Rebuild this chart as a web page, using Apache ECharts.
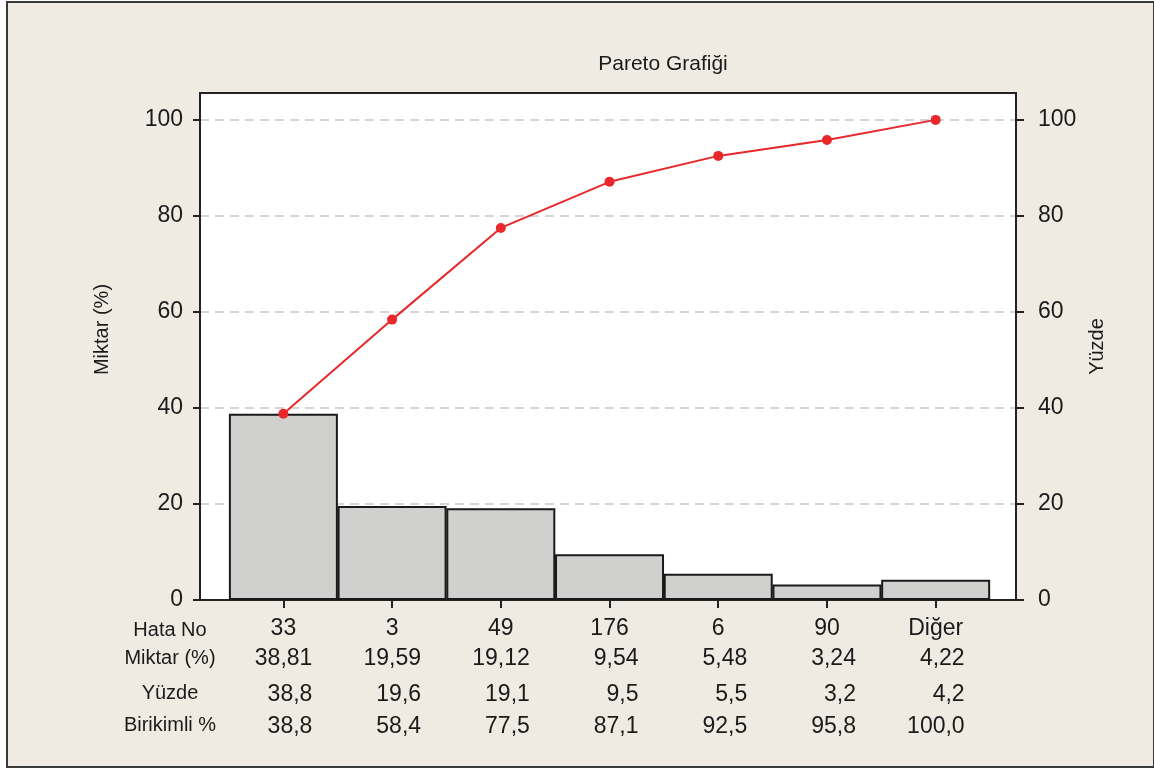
<!DOCTYPE html>
<html lang="tr">
<head>
<meta charset="UTF-8">
<title>Pareto Grafiği</title>
<script src="https://cdn.jsdelivr.net/npm/echarts@6/dist/echarts.min.js"></script>
<style>
  body { margin: 0; background: #fff; }
  #frame { position: absolute; left: 6px; top: 1px; width: 1145px; height: 763px;
           border: 2px solid #3a3a3a; background: #f0ebe2; }
  #chart { position: absolute; left: 0; top: 0; width: 1154px; height: 770px; }
</style>
</head>
<body>
<div id="frame"></div>
<div id="chart"></div>
<script>
  // veriler
  const hataNo = ['33', '3', '49', '176', '6', '90', 'Diğer'];
  const miktar = [38.81, 19.59, 19.12, 9.54, 5.48, 3.24, 4.22];
  const yuzde = [38.8, 19.6, 19.1, 9.5, 5.5, 3.2, 4.2];
  const birikimli = [38.8, 58.4, 77.5, 87.1, 92.5, 95.8, 100.0];
  const yTicks = [0, 20, 40, 60, 80, 100];
  const rowNames = ['Hata No', 'Miktar (%)', 'Yüzde', 'Birikimli %'];

  const FONT = '"Liberation Sans", Arial, Helvetica, sans-serif';
  const TXT = '#1a1a1a';
  const idx = hataNo.map((_, i) => i);
  const fmt = (v, d) => v.toFixed(d).replace('.', ',');

  const chart = echarts.init(document.getElementById('chart'));

  // tablo satırları ayrı x eksenleri olarak
  function rowAxis(offset, values, digits) {
    return {
      type: 'value', min: -0.767, max: 6.739, position: 'bottom', offset: offset,
      axisLine: { show: false, onZero: false }, axisTick: { show: false }, splitLine: { show: false },
      axisLabel: {
        customValues: idx, margin: 17,
        formatter: v => '{v|' + fmt(values[Math.round(v)], digits) + '}',
        rich: { v: { width: 58, align: 'right', fontSize: 23, color: TXT, fontFamily: FONT } }
      }
    };
  }

  const option = {
    textStyle: { fontFamily: FONT },
    title: {
      text: 'Pareto Grafiği', left: 658, top: 49, textAlign: 'center',
      textStyle: { fontSize: 21, fontWeight: 'normal', color: TXT, fontFamily: FONT }
    },
    grid: {
      left: 200, right: 138, top: 93, bottom: 170,
      show: true, backgroundColor: '#fff', borderColor: '#222', borderWidth: 2
    },
    xAxis: [
      {
        type: 'value', min: -0.767, max: 6.739, position: 'bottom',
        axisLine: { show: true, onZero: false, lineStyle: { color: '#222', width: 2 } },
        axisTick: { show: true, customValues: idx, length: 8, lineStyle: { color: '#222', width: 2 } },
        splitLine: { show: false },
        axisLabel: {
          customValues: idx, margin: 17, fontSize: 23, color: TXT,
          formatter: v => hataNo[Math.round(v)]
        }
      },
      rowAxis(30, miktar, 2),
      rowAxis(66, yuzde, 1),
      rowAxis(98, birikimli, 1)
    ],
    yAxis: [
      {
        type: 'value', min: 0, max: 105.6, position: 'left',
        name: 'Miktar (%)', nameLocation: 'middle', nameGap: 88,
        nameTextStyle: { fontSize: 20, color: TXT, padding: [0, 0, 0, 34] },
        axisLine: { show: true, onZero: false, lineStyle: { color: '#222', width: 2 } },
        axisTick: { show: true, customValues: yTicks, length: 7, lineStyle: { color: '#222', width: 2 } },
        axisLabel: { customValues: yTicks, margin: 17, fontSize: 23, color: TXT },
        splitLine: { show: true, lineStyle: { color: '#c8c8c8', width: 1.5, type: [9, 6] } }
      },
      {
        type: 'value', min: 0, max: 105.6, position: 'right',
        name: 'Yüzde', nameLocation: 'middle', nameGap: 70,
        nameTextStyle: { fontSize: 20, color: TXT },
        axisLine: { show: true, onZero: false, lineStyle: { color: '#222', width: 2 } },
        axisTick: { show: true, customValues: yTicks, length: 8, lineStyle: { color: '#222', width: 2 } },
        axisLabel: { customValues: yTicks, margin: 22, fontSize: 23, color: TXT },
        splitLine: { show: false }
      }
    ],
    graphic: rowNames.map((t, i) => ({
      type: 'text', x: 170, y: [630, 658, 693, 725][i],
      style: {
        text: t, fontSize: 20, fill: TXT, fontFamily: FONT,
        align: 'center', verticalAlign: 'middle'
      }
    })),
    series: [
      {
        name: 'Miktar (%)', type: 'bar', xAxisIndex: 0, yAxisIndex: 0,
        barWidth: 109,
        itemStyle: { color: '#d0d0ce', borderColor: '#1a1a1a', borderWidth: 2 },
        data: miktar.map((v, i) => [i, v])
      },
      {
        name: 'Birikimli %', type: 'line', xAxisIndex: 0, yAxisIndex: 1,
        symbol: 'circle', symbolSize: 10,
        lineStyle: { color: '#e8282b', width: 2 },
        itemStyle: { color: '#e8282b' },
        data: birikimli.map((v, i) => [i, v])
      }
    ]
  };

  chart.setOption(option);
</script>
</body>
</html>
